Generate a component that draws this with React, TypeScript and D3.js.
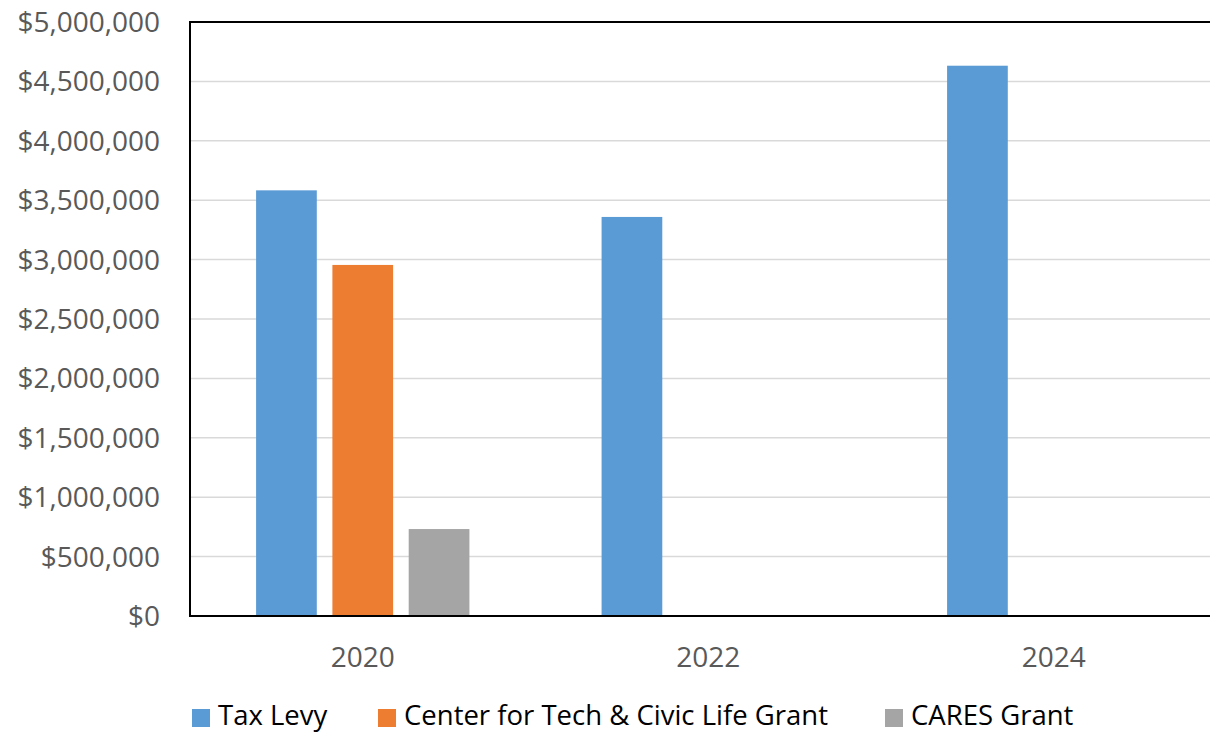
import React, { useEffect, useRef } from 'react';
import * as d3 from 'd3';

const years = ['2020', '2022', '2024'];
const seriesNames = ['Tax Levy', 'Center for Tech & Civic Life Grant', 'CARES Grant'];
const taxLevy = [3583000, 3359000, 4632000];
const ctclGrant = [2955000, 0, 0];
const caresGrant = [732000, 0, 0];
const yTicks = [0, 500000, 1000000, 1500000, 2000000, 2500000, 3000000, 3500000, 4000000, 4500000, 5000000];

const colors = ['#5B9BD5', '#ED7D31', '#A5A5A5'];
const FONT = '"Open Sans", "Noto Sans", sans-serif';

export default function App() {
  const ref = useRef<SVGSVGElement | null>(null);

  useEffect(() => {
    document.body.style.margin = '0';
    const svg = d3.select(ref.current);
    svg.selectAll('*').remove();

    const W = 1210, H = 733;
    const m = { l: 190, t: 22, r: -16.5, b: 117 };
    const values = [taxLevy, ctclGrant, caresGrant];

    const x0 = d3.scaleBand().domain(years).range([m.l, W - m.r]).padding(0);
    const x1 = d3.scaleBand().domain(seriesNames).range([0, x0.bandwidth()])
      .paddingInner(0.2045).paddingOuter(0.866);
    const y = d3.scaleLinear().domain([0, 5000000]).range([H - m.b, m.t]);
    const fmt = d3.format('$,.0f');

    // gridlines
    svg.append('g').selectAll('line').data(yTicks.filter(d => d > 0 && d < 5000000)).enter().append('line')
      .attr('x1', m.l).attr('x2', W).attr('y1', d => y(d)).attr('y2', d => y(d))
      .attr('stroke', '#d9d9d9').attr('stroke-width', 1.5);

    // bars
    values.forEach((vals, si) => {
      svg.append('g').selectAll('rect').data(vals.map((v, i) => ({ v, year: years[i] })).filter(d => d.v > 0))
        .enter().append('rect')
        .attr('x', d => (x0(d.year) as number) + (x1(seriesNames[si]) as number))
        .attr('y', d => y(d.v))
        .attr('width', x1.bandwidth())
        .attr('height', d => y(0) - y(d.v))
        .attr('fill', colors[si]);
    });

    // frame: left, top, bottom
    const frame = svg.append('g').attr('stroke', '#000').attr('stroke-width', 2).attr('fill', 'none');
    frame.append('line').attr('x1', m.l).attr('x2', m.l).attr('y1', y(5000000)).attr('y2', y(0));
    frame.append('line').attr('x1', m.l - 1).attr('x2', W).attr('y1', y(5000000)).attr('y2', y(5000000));
    frame.append('line').attr('x1', m.l - 1).attr('x2', W).attr('y1', y(0)).attr('y2', y(0));

    // y tick labels
    svg.append('g').selectAll('text').data(yTicks).enter().append('text')
      .attr('x', 160).attr('y', d => y(d)).attr('dy', '0.36em')
      .attr('text-anchor', 'end').attr('font-family', FONT).attr('font-size', 28).attr('fill', '#595959')
      .text(d => fmt(d));

    // x labels
    svg.append('g').selectAll('text').data(years).enter().append('text')
      .attr('x', d => (x0(d) as number) + x0.bandwidth() / 2).attr('y', 667)
      .attr('text-anchor', 'middle').attr('font-family', FONT).attr('font-size', 28).attr('fill', '#595959')
      .text(d => d);

    // legend
    const legendX = [192, 378, 885];
    const lg = svg.append('g');
    seriesNames.forEach((name, i) => {
      lg.append('rect').attr('x', legendX[i]).attr('y', 709).attr('width', 18).attr('height', 18).attr('fill', colors[i]);
      lg.append('text').attr('x', legendX[i] + 26).attr('y', 725)
        .attr('font-family', FONT).attr('font-size', 27.5).attr('fill', '#000').text(name);
    });
  }, []);

  return <svg ref={ref} width={1210} height={733} style={{ display: 'block', background: '#fff' }} />;
}
